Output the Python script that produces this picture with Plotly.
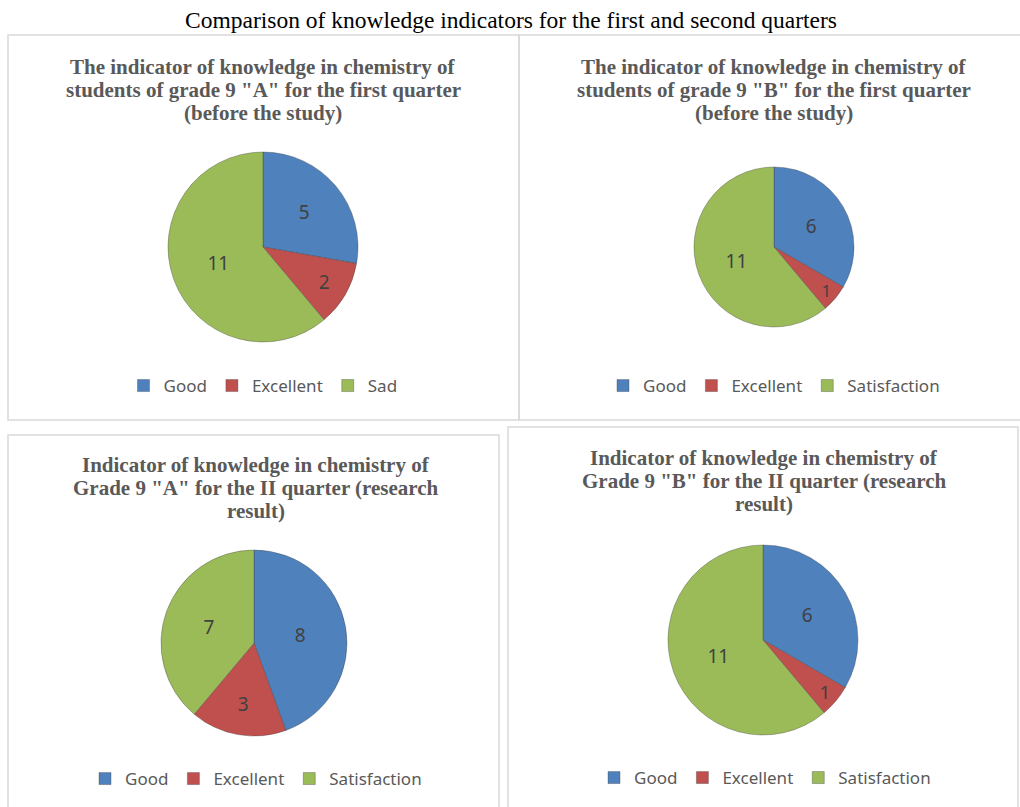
import plotly.graph_objects as go

W, H = 1020, 807

categories_a = ["Good", "Excellent", "Sad"]
categories_b = ["Good", "Excellent", "Satisfaction"]
values_9a_q1 = [5, 2, 11]
values_9b_q1 = [6, 1, 11]
values_9a_q2 = [8, 3, 7]
values_9b_q2 = [6, 1, 11]

main_title = "Comparison of knowledge indicators for the first and second quarters"
titles = [
    ['The indicator of knowledge in chemistry of', 'students of grade 9 "A" for the first quarter', '(before the study)'],
    ['The indicator of knowledge in chemistry of', 'students of grade 9 "B" for the first quarter', '(before the study)'],
    ['Indicator of knowledge in chemistry of', 'Grade 9 "A" for the II quarter (research', 'result)'],
    ['Indicator of knowledge in chemistry of', 'Grade 9 "B" for the II quarter (research', 'result)'],
]

colors = ["#4F81BD", "#C0504D", "#9BBB59"]

# pie centers and radii in pixels
pies = [
    (categories_a, values_9a_q1, 263, 247, 95),
    (categories_b, values_9b_q1, 774, 247, 80),
    (categories_b, values_9a_q2, 254, 643, 93),
    (categories_b, values_9b_q2, 763, 640, 95),
]
title_pos = [(263, 67), (774, 67), (256, 465), (764, 458)]
legend_pos = [(263, 386), (774, 386), (256, 779), (765, 778)]
panels = [(8, 35, 519, 420), (519, 35, 1030, 420), (8, 435, 499, 820), (508, 427, 1018, 820)]

fig = go.Figure()
for i, (cats, vals, cx, cy, r) in enumerate(pies):
    # zero-width suffix keeps each pie's legend entries separate
    labels = [c + "\u200b" * i for c in cats]
    fig.add_trace(go.Pie(
        labels=labels, values=vals, sort=False, direction="clockwise", rotation=0,
        textinfo="value", textposition="inside", insidetextorientation="horizontal",
        textfont=dict(family="Noto Sans", size=19, color="#404040"),
        marker=dict(colors=colors, line=dict(color="rgba(60,60,60,0.35)", width=1)),
        domain=dict(x=[(cx - r) / W, (cx + r) / W], y=[1 - (cy + r) / H, 1 - (cy - r) / H]),
        legend="legend" if i == 0 else f"legend{i+1}",
        hoverinfo="label+value+percent",
    ))

layout_legends = {}
for i, (lx, ly) in enumerate(legend_pos):
    key = "legend" if i == 0 else f"legend{i+1}"
    layout_legends[key] = dict(
        orientation="h", x=lx / W, y=1 - ly / H, xanchor="center", yanchor="middle",
        font=dict(family="Noto Sans", size=17, color="#595959"),
        bgcolor="rgba(0,0,0,0)", traceorder="normal", itemwidth=30,
    )

shapes = [dict(type="rect", xref="paper", yref="paper",
               x0=x0 / W, x1=x1 / W, y0=1 - y1 / H, y1=1 - y0 / H,
               line=dict(color="#D9D9D9", width=1.5), layer="below")
          for (x0, y0, x1, y1) in panels]

annotations = [dict(text=main_title, x=511 / W, y=1 - 20 / H, xref="paper", yref="paper",
                    showarrow=False, xanchor="center", yanchor="middle",
                    font=dict(family="Liberation Serif", size=23.5, color="#000000"))]
for lines, (tx, ty) in zip(titles, title_pos):
    for k, line in enumerate(lines):
        annotations.append(dict(text=f"<b>{line}</b>", x=tx / W, y=1 - (ty + 23 * k) / H,
                                xref="paper", yref="paper", showarrow=False,
                                xanchor="center", yanchor="middle",
                                font=dict(family="Liberation Serif", size=21, color="#595959")))

fig.update_layout(
    width=W, height=H, margin=dict(l=0, r=0, t=0, b=0),
    paper_bgcolor="white", plot_bgcolor="white",
    showlegend=True, shapes=shapes, annotations=annotations,
    **layout_legends,
)

fig.write_html("out.html")
